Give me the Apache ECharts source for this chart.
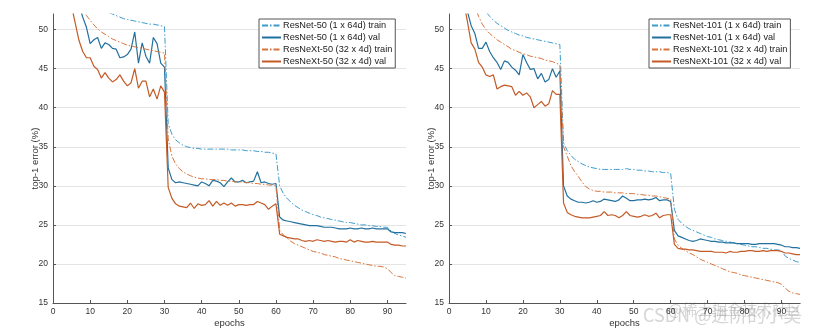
<!DOCTYPE html>
<html>
<head>
<meta charset="utf-8">
<script src="https://cdn.jsdelivr.net/npm/echarts@6/dist/echarts.min.js"></script>
<style>
  html, body { margin: 0; padding: 0; background: #fff; }
  #chart { width: 832px; height: 336px; }
</style>
</head>
<body>
<div id="chart"></div>
<script>
// Training epochs 1..95
const epochs = Array.from({ length: 95 }, (_, i) => i + 1);

const xTicks = [0, 10, 20, 30, 40, 50, 60, 70, 80, 90];
const yTicks = [15, 20, 25, 30, 35, 40, 45, 50];

const leftNames = ['ResNet-50 (1 x 64d) train', 'ResNet-50 (1 x 64d) val', 'ResNeXt-50 (32 x 4d) train', 'ResNeXt-50 (32 x 4d) val'];
const rightNames = ['ResNet-101 (1 x 64d) train', 'ResNet-101 (1 x 64d) val', 'ResNeXt-101 (32 x 4d) train', 'ResNeXt-101 (32 x 4d) val'];

// top-1 error (%) per epoch, 50-layer models
const resnet50Train = [
  72, 65, 61, 58.5, 57, 56, 55.3, 54.7, 54.2, 53.8, 53.4, 53.0, 52.7, 52.4, 52.2,
  52.0, 51.8, 51.6, 51.4, 51.3, 51.2, 51.1, 51.0, 50.9, 50.8, 50.7, 50.7, 50.6, 50.5, 50.4,
  38.0, 36.6, 35.9, 35.5, 35.2, 35.0, 34.9, 34.8, 34.8, 34.7, 34.7, 34.7, 34.7, 34.7, 34.7,
  34.7, 34.7, 34.6, 34.6, 34.6, 34.6, 34.5, 34.5, 34.5, 34.4, 34.4, 34.3, 34.3, 34.2, 34.1,
  30.0, 29.0, 28.4, 27.9, 27.5, 27.2, 26.9, 26.7, 26.5, 26.3, 26.2, 26.0, 25.9, 25.8, 25.7,
  25.6, 25.5, 25.4, 25.3, 25.3, 25.2, 25.1, 25.0, 25.0, 24.9, 24.9, 24.8, 24.8, 24.7, 24.7,
  24.2, 23.9, 23.7, 23.6, 23.4
];
const resnet50Val = [
  72, 66, 62, 59, 57, 55, 53.2, 51.6, 50.3, 48.2,
  48.7, 49.0, 47.6, 48.3, 48.1, 47.6, 47.5, 46.4, 46.5, 46.8,
  47.5, 49.7, 45.7, 48.3, 46.6, 45.7, 49.0, 48.2, 45.7, 45.2,
  32.3, 30.8, 30.4, 30.5, 30.4, 30.3, 30.2, 30.1, 30.0, 30.5,
  30.3, 30.0, 30.7, 30.6, 30.4, 29.9, 30.5, 31.0, 30.5, 30.5,
  30.7, 30.4, 30.5, 30.6, 31.8, 30.4, 30.5, 30.3, 30.2, 30.3,
  26.0, 25.6, 25.5, 25.4, 25.3, 25.2, 25.1, 25.0, 24.9, 24.9,
  24.9, 24.8, 24.7, 24.7, 24.7, 24.6, 24.5, 24.5, 24.5, 24.6,
  24.5, 24.5, 24.6, 24.5, 24.5, 24.6, 24.5, 24.5, 24.5, 24.5,
  24.1, 24.0, 24.0, 24.0, 23.9
];
const resnext50Train = [
  75, 68, 63, 59.5, 57, 55, 53.6, 52.6, 51.8, 51.2,
  50.6, 50.1, 49.7, 49.4, 49.1, 48.8, 48.6, 48.4, 48.2, 48.0,
  47.9, 47.8, 47.7, 47.6, 47.5, 47.4, 47.3, 47.2, 47.1, 47.0,
  36.0, 33.8, 32.8, 32.2, 31.8, 31.5, 31.3, 31.1, 31.0, 30.9,
  30.9, 30.8, 30.8, 30.8, 30.7, 30.7, 30.6, 30.6, 30.5, 30.5,
  30.5, 30.4, 30.4, 30.3, 30.3, 30.2, 30.2, 30.1, 30.1, 30.0,
  24.3, 23.7, 23.3, 22.9, 22.6, 22.4, 22.2, 22.0, 21.8, 21.6,
  21.5, 21.4, 21.2, 21.1, 21.0, 20.9, 20.7, 20.6, 20.5, 20.4,
  20.3, 20.2, 20.1, 20.0, 19.9, 19.8, 19.7, 19.7, 19.6, 19.4,
  18.9, 18.5, 18.4, 18.3, 18.2
];
const resnext50Val = [
  68, 62, 58, 55, 53.0, 50.8, 48.6, 47.2, 46.4, 46.4,
  45.3, 44.9, 43.8, 44.5, 43.8, 43.3, 43.6, 44.2, 43.4, 42.8,
  43.2, 45.0, 42.5, 43.4, 43.4, 41.4, 42.4, 41.1, 42.8, 42.0,
  29.8, 28.4, 27.7, 27.4, 27.3, 27.2, 27.8, 27.1, 27.7, 27.5,
  27.6, 28.1, 27.4, 28.0, 27.5, 27.8, 27.5, 27.8, 27.4, 27.6,
  27.6, 27.5, 27.6, 27.6, 28.0, 27.8, 27.6, 27.0, 27.4, 27.7,
  23.8, 23.6, 23.4, 23.3, 23.2, 23.2, 23.0, 22.9, 23.0, 22.9,
  23.1, 23.0, 22.9, 23.0, 22.9, 22.8, 22.9, 22.9, 22.8, 23.1,
  22.8, 23.0, 22.9, 22.8, 22.8, 22.9, 22.8, 22.8, 22.8, 22.8,
  22.5, 22.4, 22.4, 22.3, 22.3
];

// top-1 error (%) per epoch, 101-layer models
const resnet101Train = [
  78, 70, 65, 61, 58.5, 56.5, 55, 53.8, 52.8, 52.3,
  51.7, 51.2, 50.8, 50.5, 50.2, 49.9, 49.7, 49.5, 49.3, 49.2,
  49.0, 48.9, 48.8, 48.7, 48.6, 48.5, 48.4, 48.3, 48.2, 48.1,
  35.5, 34.5, 33.9, 33.4, 33.1, 32.8, 32.6, 32.4, 32.3, 32.2,
  32.1, 32.1, 32.1, 32.1, 32.1, 32.1, 32.1, 32.2, 32.1, 32.1,
  32.0, 32.0, 31.9, 31.9, 31.8, 31.8, 31.8, 31.7, 31.7, 31.6,
  27.0, 25.7, 25.2, 24.8, 24.5, 24.3, 24.1, 23.9, 23.7, 23.5,
  23.4, 23.2, 23.1, 23.0, 22.9, 22.8, 22.7, 22.6, 22.5, 22.4,
  22.3, 22.2, 22.2, 22.1, 22.0, 22.0, 21.9, 21.8, 21.8, 21.7,
  21.0, 20.7, 20.5, 20.3, 20.2
];
const resnet101Val = [
  70, 62, 57, 54.5, 52.3, 50.5, 49.5, 47.6, 47.6, 48.4,
  47.2, 46.4, 45.8, 44.9, 46.0, 45.8, 45.2, 44.8, 44.2, 46.8,
  45.8, 44.9, 45.0, 43.7, 44.4, 43.3, 43.6, 45.0, 43.9, 44.7,
  30.0, 28.7, 28.3, 28.1, 27.9, 27.9, 27.8, 27.9, 28.1, 27.9,
  28.0, 28.3, 28.2, 28.1, 28.0, 28.2, 28.7, 28.4, 28.1, 28.1,
  28.2, 28.2, 28.3, 28.2, 28.3, 28.5, 28.1, 28.2, 28.2, 28.0,
  24.3, 23.6, 23.4, 23.2, 23.0, 22.9, 23.0, 23.2, 23.1, 23.0,
  22.9, 22.9, 22.8, 22.8, 22.7, 22.7, 22.7, 22.6, 22.6, 22.6,
  22.6, 22.5, 22.5, 22.6, 22.6, 22.6, 22.6, 22.6, 22.5, 22.4,
  22.2, 22.2, 22.1, 22.1, 22.0
];
const resnext101Train = [
  80, 71, 65, 60.5, 57, 54.5, 53.0, 51.7, 50.7, 50.0,
  49.5, 49.1, 48.7, 48.4, 48.1, 47.8, 47.5, 47.3, 47.1, 46.9,
  46.8, 46.6, 46.5, 46.4, 46.3, 46.1, 46.0, 45.9, 45.7, 45.5,
  35.0, 33.8, 32.6, 31.8, 31.2, 30.5, 29.9, 29.6, 29.4, 29.3,
  29.3, 29.2, 29.2, 29.2, 29.1, 29.1, 29.1, 29.0, 29.0, 29.0,
  28.9, 28.9, 28.8, 28.8, 28.7, 28.7, 28.6, 28.5, 28.4, 28.3,
  23.2, 22.4, 22.0, 21.7, 21.4, 21.2, 20.9, 20.6, 20.4, 20.2,
  20.0, 19.8, 19.6, 19.4, 19.2, 19.0, 18.9, 18.8, 18.6, 18.5,
  18.4, 18.3, 18.2, 18.1, 18.0, 17.9, 17.8, 17.7, 17.6, 17.4,
  16.9, 16.5, 16.3, 16.2, 16.1
];
const resnext101Val = [
  72, 64, 58, 53.5, 51.0, 48.3, 47.5, 45.8, 45.2, 44.2,
  44.0, 44.2, 42.4, 42.7, 42.9, 42.8, 42.7, 41.6, 42.1, 41.6,
  41.9, 41.4, 40.0, 40.4, 40.8, 40.2, 40.5, 42.2, 41.7, 41.7,
  27.8, 26.6, 26.3, 26.1, 26.0, 25.9, 25.9, 25.9, 26.0, 26.1,
  26.2, 26.7, 26.2, 26.3, 26.2, 25.9, 26.2, 26.7, 26.2, 26.1,
  26.0, 26.1, 26.3, 26.1, 26.2, 26.5, 25.9, 26.2, 26.3, 26.3,
  22.5, 22.0, 21.9, 21.9, 21.8, 21.8, 21.7, 21.6, 21.6, 21.6,
  21.6, 21.5, 21.5, 21.5, 21.4, 21.6, 21.5, 21.5, 21.6, 21.6,
  21.7, 21.7, 21.6, 21.6, 21.7, 21.6, 21.7, 21.7, 21.7, 21.6,
  21.4, 21.4, 21.3, 21.2, 21.2
];

const FONT = "'Liberation Sans', Arial, sans-serif";
const BLUE_TRAIN = '#3d9ccb';
const BLUE_VAL = '#22709f';
const ORANGE_TRAIN = '#d7743c';
const ORANGE_VAL = '#c45a26';
const DASH_DOT = [6, 2, 1.5, 2];

function pairs(vals) {
  return epochs.map((e, i) => [e, vals[i]]);
}

function line(name, vals, color, dashed, idx) {
  return {
    name,
    type: 'line',
    xAxisIndex: idx,
    yAxisIndex: idx,
    data: pairs(vals),
    showSymbol: false,
    symbol: 'none',
    clip: true,
    animation: false,
    lineStyle: { color, width: dashed ? 1 : 1.2, type: dashed ? DASH_DOT : 'solid' },
    itemStyle: { color }
  };
}

function xAxisFor(idx) {
  return {
    type: 'value',
    gridIndex: idx,
    min: 0,
    max: 95,
    interval: 10,
    name: 'epochs',
    nameLocation: 'middle',
    nameGap: 15,
    nameMoveOverlap: false,
    nameTextStyle: { fontFamily: FONT, fontSize: 9.5, color: '#333' },
    axisLine: { show: true, lineStyle: { color: '#555', width: 1 } },
    axisTick: { show: true, inside: true, length: 3, lineStyle: { color: '#555' } },
    axisLabel: {
      fontFamily: FONT, fontSize: 8.5, color: '#333', margin: 4,
      showMaxLabel: false,
      formatter: v => (xTicks.includes(v) ? String(v) : '')
    },
    splitLine: { show: false }
  };
}

function yAxisFor(idx) {
  return {
    type: 'value',
    gridIndex: idx,
    min: 15,
    max: 52,
    interval: 5,
    name: 'top-1 error (%)',
    nameLocation: 'middle',
    nameRotate: 90,
    nameGap: 13,
    nameMoveOverlap: false,
    nameTextStyle: { fontFamily: FONT, fontSize: 9.5, color: '#333' },
    axisLine: { show: true, lineStyle: { color: '#555', width: 1 } },
    axisTick: { show: true, inside: true, length: 3, lineStyle: { color: '#555' } },
    axisLabel: {
      fontFamily: FONT, fontSize: 8.5, color: '#333', margin: 5,
      showMaxLabel: false,
      formatter: v => (yTicks.includes(v) ? String(v) : '')
    },
    splitLine: { show: true, showMaxLine: false, lineStyle: { color: '#e4e4e4', width: 1 } }
  };
}

function legendFor(names, left) {
  return {
    data: names,
    orient: 'vertical',
    left,
    top: 19,
    itemWidth: 19,
    itemHeight: 9,
    itemGap: 3,
    padding: [2, 3, 2, 2],
    backgroundColor: '#fff',
    borderColor: '#555',
    borderWidth: 1,
    borderRadius: 0,
    selectedMode: false,
    itemStyle: { opacity: 0 },
    textStyle: { fontFamily: FONT, fontSize: 9.2, color: '#222', padding: [0, 0, 0, -3] }
  };
}

const chart = echarts.init(document.getElementById('chart'), null, { renderer: 'canvas' });
chart.setOption({
  animation: false,
  backgroundColor: '#fff',
  grid: [
    { left: 53, right: 426, top: 14, bottom: 33 },
    { left: 449, right: 32, top: 14, bottom: 33 }
  ],
  xAxis: [xAxisFor(0), xAxisFor(1)],
  yAxis: [yAxisFor(0), yAxisFor(1)],
  legend: [legendFor(leftNames, 259), legendFor(rightNames, 649)],
  series: [
    line(leftNames[0], resnet50Train, BLUE_TRAIN, true, 0),
    line(leftNames[1], resnet50Val, BLUE_VAL, false, 0),
    line(leftNames[2], resnext50Train, ORANGE_TRAIN, true, 0),
    line(leftNames[3], resnext50Val, ORANGE_VAL, false, 0),
    line(rightNames[0], resnet101Train, BLUE_TRAIN, true, 1),
    line(rightNames[1], resnet101Val, BLUE_VAL, false, 1),
    line(rightNames[2], resnext101Train, ORANGE_TRAIN, true, 1),
    line(rightNames[3], resnext101Val, ORANGE_VAL, false, 1)
  ],
  graphic: [
    {
      type: 'text', left: 668, top: 302, silent: true,
      style: { text: '@稀土掘金技术社区', fontFamily: "'Noto Sans CJK SC', sans-serif", fontSize: 15, fill: 'rgba(150,150,150,0.4)' }
    },
    {
      type: 'text', left: 643, top: 306, silent: true,
      style: { text: 'CSDN @进阶的小吴', fontFamily: "'Noto Sans CJK SC', sans-serif", fontSize: 18, fill: 'rgba(150,150,150,0.4)' }
    }
  ]
});
</script>
</body>
</html>
